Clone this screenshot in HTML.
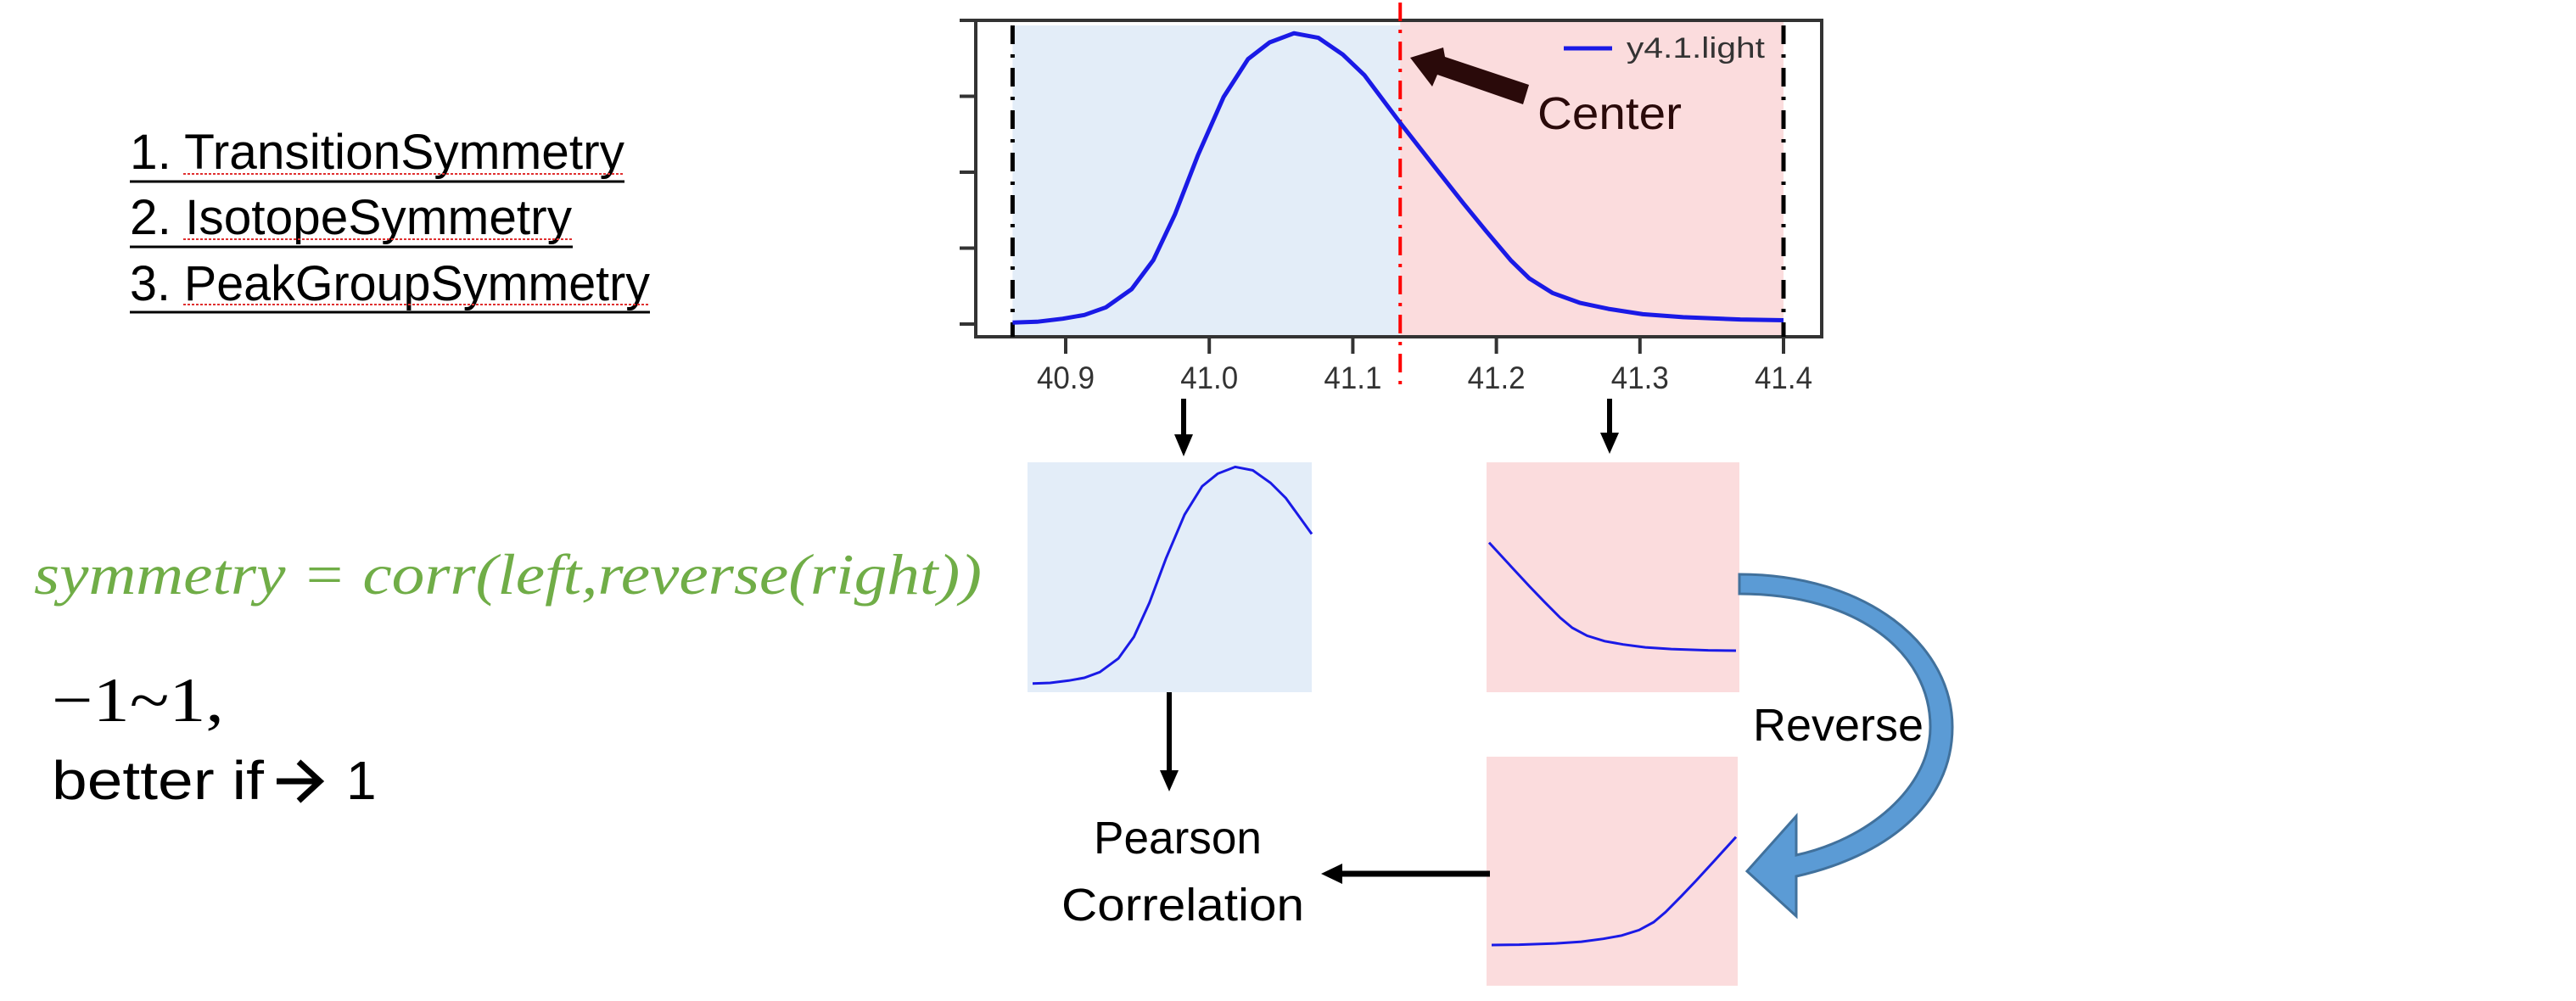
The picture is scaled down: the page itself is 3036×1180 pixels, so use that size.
<!DOCTYPE html>
<html><head><meta charset="utf-8"><style>
html,body{margin:0;padding:0;background:#fff;}
svg{display:block;}
text{font-family:"Liberation Sans",sans-serif;}
</style></head><body>
<svg id="fig" width="3036" height="1180" viewBox="0 0 3036 1180" xmlns="http://www.w3.org/2000/svg">
<g>
 <text x="153" y="199" font-size="58" textLength="583" lengthAdjust="spacingAndGlyphs" fill="#000">1. TransitionSymmetry</text>
 <line x1="153" y1="214" x2="736" y2="214" stroke="#000" stroke-width="3"/>
 <line x1="216" y1="205" x2="736" y2="205" stroke="#e03030" stroke-width="2" stroke-dasharray="3,2"/>
 <text x="153" y="276" font-size="58" textLength="521" lengthAdjust="spacingAndGlyphs" fill="#000">2. IsotopeSymmetry</text>
 <line x1="153" y1="291" x2="675" y2="291" stroke="#000" stroke-width="3"/>
 <line x1="216" y1="282" x2="675" y2="282" stroke="#e03030" stroke-width="2" stroke-dasharray="3,2"/>
 <text x="153" y="354" font-size="58" textLength="613" lengthAdjust="spacingAndGlyphs" fill="#000">3. PeakGroupSymmetry</text>
 <line x1="153" y1="368" x2="766" y2="368" stroke="#000" stroke-width="3"/>
 <line x1="216" y1="359" x2="766" y2="359" stroke="#e03030" stroke-width="2" stroke-dasharray="3,2"/>
</g>
<text x="40" y="700" font-size="68" font-style="italic" style="font-family:'Liberation Serif',serif" fill="#70ad47" textLength="1117" lengthAdjust="spacingAndGlyphs">symmetry = corr(left,reverse(right))</text>
<text x="61" y="850" font-size="74" style="font-family:'Liberation Serif',serif" fill="#000" textLength="203" lengthAdjust="spacingAndGlyphs">−1~1,</text>
<text x="61" y="942" font-size="64" fill="#000" textLength="250" lengthAdjust="spacingAndGlyphs">better if</text>
<g>
 <line x1="326" y1="921" x2="372" y2="921" stroke="#000" stroke-width="7"/>
 <polyline points="352,898 377,921 352,944" fill="none" stroke="#000" stroke-width="7"/>
</g>
<text x="408" y="942" font-size="64" fill="#000">1</text>

<g id="main"></g>
<g id="minis"></g>

<g>
 <line x1="1395" y1="470" x2="1395" y2="515" stroke="#000" stroke-width="6"/>
 <polygon points="1384,512 1406,512 1395,538" fill="#000"/>
 <line x1="1897" y1="470" x2="1897" y2="512" stroke="#000" stroke-width="6"/>
 <polygon points="1886,510 1908,510 1897,535" fill="#000"/>
 <line x1="1378" y1="816" x2="1378" y2="910" stroke="#000" stroke-width="6"/>
 <polygon points="1367,908 1389,908 1378,933" fill="#000"/>
 <line x1="1756" y1="1030" x2="1580" y2="1030" stroke="#000" stroke-width="7"/>
 <polygon points="1582,1018 1582,1042 1557,1030" fill="#000"/>
 <path d="M2050,677 C2200,677 2301,760 2301,857 C2301,950 2220,1010 2117,1033 L2117,1080 L2059,1027 L2117,962 L2117,1008 C2200,990 2275,930 2275,857 C2275,770 2190,700 2050,700 Z" fill="#5b9bd5" stroke="#41719c" stroke-width="3"/>
 <text x="2066" y="873" font-size="54" fill="#000" textLength="201" lengthAdjust="spacingAndGlyphs">Reverse</text>
 <text x="1388" y="1006" font-size="54" fill="#000" text-anchor="middle" textLength="198" lengthAdjust="spacingAndGlyphs">Pearson</text>
 <text x="1251" y="1085" font-size="54" fill="#000" textLength="286" lengthAdjust="spacingAndGlyphs">Correlation</text>
</g>
</svg>
<script>
const xs = [40.863,40.880,40.898,40.913,40.928,40.946,40.961,40.976,40.992,41.010,41.027,41.042,41.059,41.076,41.093,41.108,41.133,41.157,41.177,41.193,41.210,41.223,41.239,41.258,41.278,41.302,41.330,41.370,41.400];
const ys = [0.02,0.03,0.07,0.12,0.22,0.46,0.84,1.44,2.22,2.99,3.49,3.71,3.83,3.77,3.55,3.28,2.65,2.07,1.59,1.22,0.84,0.60,0.41,0.28,0.20,0.13,0.09,0.06,0.05];
const xTicks = [40.9,41.0,41.1,41.2,41.3,41.4];
const xTickLabels = ["40.9","41.0","41.1","41.2","41.3","41.4"];
const yTicks = [0,1,2,3,4];
const windowStart = 40.863, windowEnd = 41.400, center = 41.133;

const NS = "http://www.w3.org/2000/svg";
function mk(parent, tag, attrs){const e=document.createElementNS(NS,tag);for(const k in attrs)e.setAttribute(k,attrs[k]);parent.appendChild(e);return e;}
const X = v => 1256 + (v-40.9)/0.1*169.2;
const Y = v => 382 - v*89.5;
const main = document.getElementById('main');

let r = mk(main,'rect',{x:X(windowStart),y:30,width:X(center)-X(windowStart),height:367,fill:'#e3edf8'});


r = mk(main,'rect',{x:X(center),y:24,width:X(windowEnd)-X(center),height:371,fill:'#fbdcdd'});



let fr = mk(main,'path',{d:'M1150,24 H2147 V397 H1150 Z',fill:'none',stroke:'#333',"stroke-width":4});


yTicks.forEach(t=>{
  const l = mk(main,'line',{x1:1131,x2:1150,y1:Y(t),y2:Y(t),stroke:'#333',"stroke-width":4});
  
  
});
xTicks.forEach((t,i)=>{
  const l = mk(main,'line',{x1:X(t),x2:X(t),y1:397,y2:417,stroke:'#333',"stroke-width":4});
  
  
  const tx = mk(main,'text',{x:X(t),y:458,"font-size":37,fill:'#333',"text-anchor":'middle',textLength:68,lengthAdjust:'spacingAndGlyphs'});
  tx.textContent = xTickLabels[i];
  
  
});
[windowStart,windowEnd].forEach(v=>{
  const l = mk(main,'line',{x1:X(v),x2:X(v),y1:30,y2:397,stroke:'#000',"stroke-width":5,"stroke-dasharray":'22,12,4,12'});
  
  
});
let cl = mk(main,'line',{x1:X(center),x2:X(center),y1:3,y2:455,stroke:'#ff0000',"stroke-width":4,"stroke-dasharray":'22,10,4,10'});



let d = xs.map((x,i)=>(i?'L':'M')+X(x).toFixed(1)+','+Y(ys[i]).toFixed(1)).join(' ');
let ln = mk(main,'path',{d:d,fill:'none',stroke:'#1a1ae6',"stroke-width":5,"stroke-linejoin":'round'});



let lg = mk(main,'line',{x1:1843,x2:1900,y1:57,y2:57,stroke:'#1a1ae6',"stroke-width":5});


let lt = mk(main,'text',{x:1917,y:68,"font-size":34,fill:'#333',textLength:163,lengthAdjust:'spacingAndGlyphs'});
lt.textContent='y4.1.light';



let ca = mk(main,'polygon',{points:'1662,68 1701,56 1703,67 1802,100 1795,123 1694,88 1688,102',fill:'#2a0a0a'});


let ct = mk(main,'text',{x:1812,y:152,"font-size":54,fill:'#2a0a0a',textLength:170,lengthAdjust:'spacingAndGlyphs'});
ct.textContent='Center';



const minis = document.getElementById('minis');
function panel(name,x0,y0,w,h,fill){
  const p = mk(minis,'rect',{x:x0,y:y0,width:w,height:h,fill:fill});
  
  
}
panel('left-panel',1211,545,335,271,'#e3edf8');
panel('right-panel',1752,545,298,271,'#fbdcdd');
panel('reversed-panel',1752,892,296,270,'#fbdcdd');

const leftIdx = xs.map((x,i)=>i).filter(i=>xs[i]<=center);
const rightIdx = xs.map((x,i)=>i).filter(i=>xs[i]>=center);
function miniPath(name, idx, xmap, ymap){
  const dd = idx.map((i,j)=>(j?'L':'M')+xmap(xs[i]).toFixed(1)+','+ymap(ys[i]).toFixed(1)).join(' ');
  const p = mk(minis,'path',{d:dd,fill:'none',stroke:'#1a1ae6',"stroke-width":3});
  
  
}
miniPath('left-mini-line',leftIdx, x=>1217+(x-windowStart)/(center-windowStart)*329, v=>807-v*67);
miniPath('right-mini-line',rightIdx, x=>1755+(x-center)/(windowEnd-center)*291, v=>769.5-v*49);
miniPath('reversed-mini-line',rightIdx, x=>2046-(x-center)/(windowEnd-center)*288, v=>1116.5-v*49);
</script>
</body></html>
